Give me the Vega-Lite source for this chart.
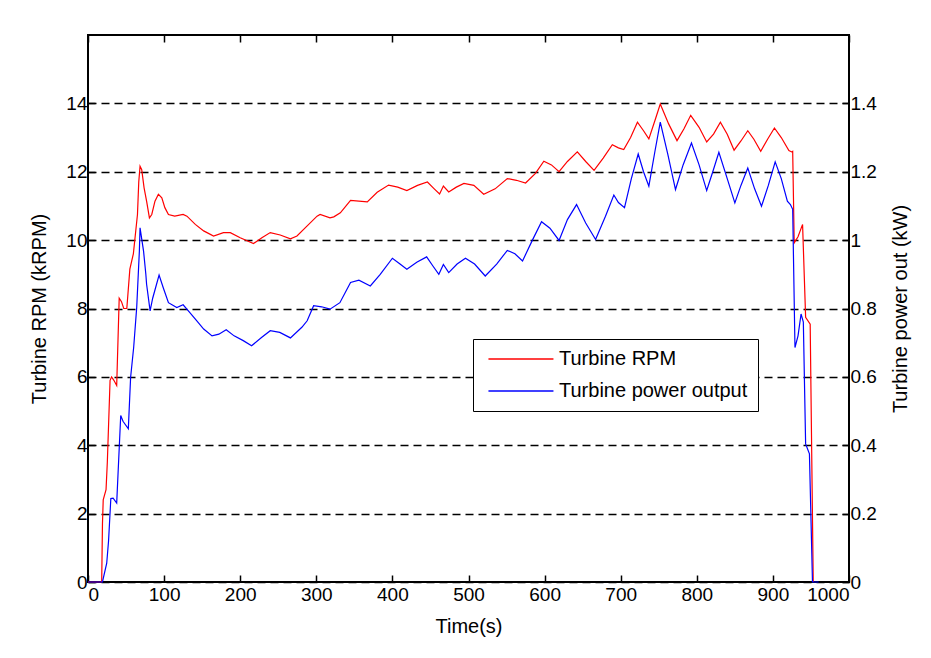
{
  "$schema": "https://vega.github.io/schema/vega-lite/v6.json",
  "width": 761,
  "height": 547,
  "autosize": {"type": "none"},
  "padding": {"left": 88, "top": 35, "right": 82, "bottom": 76},
  "background": "white",
  "config": {
    "font": "Liberation Sans",
    "view": {"stroke": "black", "strokeWidth": 2},
    "axis": {
      "domain": false,
      "grid": false,
      "labelFont": "Liberation Sans",
      "labelFontSize": 19,
      "labelColor": "black",
      "titleFont": "Liberation Sans",
      "titleFontSize": 20,
      "titleFontWeight": "normal",
      "titleColor": "black",
      "tickColor": "black",
      "tickSize": -7,
      "tickWidth": 1.5
    },
    "legend": {
      "labelFont": "Liberation Sans",
      "labelFontSize": 20,
      "labelColor": "black"
    }
  },
  "datasets": {
    "rpm": [
      {"t":0,"v":0},{"t":18,"v":0},{"t":19,"v":1.7},{"t":20,"v":2.4},{"t":23.7,"v":2.7},{"t":25.4,"v":3.5},{"t":29,"v":5.9},{"t":31,"v":6.0},{"t":34,"v":5.9},{"t":37.7,"v":5.75},{"t":41,"v":8.3},{"t":44,"v":8.2},{"t":47,"v":8.0},{"t":51,"v":8.0},{"t":55,"v":9.15},{"t":59.6,"v":9.6},{"t":65,"v":10.75},{"t":66.7,"v":11.7},{"t":68.4,"v":12.16},{"t":70.6,"v":12.06},{"t":73.7,"v":11.53},{"t":77,"v":11.14},{"t":80.7,"v":10.65},{"t":83.8,"v":10.75},{"t":88,"v":11.14},{"t":92.5,"v":11.34},{"t":97,"v":11.24},{"t":101,"v":10.95},{"t":105.7,"v":10.75},{"t":114,"v":10.7},{"t":125,"v":10.75},{"t":130,"v":10.7},{"t":141,"v":10.46},{"t":152,"v":10.27},{"t":165,"v":10.12},{"t":178,"v":10.22},{"t":187,"v":10.22},{"t":200,"v":10.07},{"t":217.5,"v":9.9},{"t":228.5,"v":10.07},{"t":239.5,"v":10.22},{"t":252.6,"v":10.15},{"t":266,"v":10.04},{"t":274.6,"v":10.12},{"t":287.7,"v":10.41},{"t":301,"v":10.7},{"t":305,"v":10.75},{"t":318,"v":10.65},{"t":323,"v":10.68},{"t":331.6,"v":10.8},{"t":345,"v":11.16},{"t":367,"v":11.12},{"t":380,"v":11.4},{"t":395,"v":11.61},{"t":407,"v":11.55},{"t":419,"v":11.45},{"t":433,"v":11.6},{"t":446,"v":11.7},{"t":455,"v":11.5},{"t":462,"v":11.35},{"t":467,"v":11.58},{"t":474,"v":11.41},{"t":484,"v":11.55},{"t":494,"v":11.66},{"t":507,"v":11.6},{"t":520,"v":11.34},{"t":535,"v":11.5},{"t":551,"v":11.8},{"t":563,"v":11.75},{"t":575,"v":11.67},{"t":588,"v":11.95},{"t":599,"v":12.31},{"t":609,"v":12.2},{"t":619,"v":12.0},{"t":630,"v":12.3},{"t":643,"v":12.58},{"t":654,"v":12.3},{"t":665,"v":12.04},{"t":677,"v":12.4},{"t":689,"v":12.79},{"t":697,"v":12.7},{"t":704,"v":12.65},{"t":713,"v":13.0},{"t":722,"v":13.45},{"t":730,"v":13.2},{"t":737,"v":12.96},{"t":745,"v":13.5},{"t":752,"v":13.98},{"t":763,"v":13.4},{"t":774,"v":12.91},{"t":783,"v":13.25},{"t":792,"v":13.65},{"t":803,"v":13.3},{"t":813,"v":12.87},{"t":822,"v":13.1},{"t":831,"v":13.45},{"t":840,"v":13.1},{"t":849,"v":12.63},{"t":858,"v":12.9},{"t":867,"v":13.2},{"t":875,"v":12.95},{"t":884,"v":12.6},{"t":893,"v":12.95},{"t":902,"v":13.28},{"t":911,"v":13.0},{"t":921,"v":12.62},{"t":924.6,"v":12.58},{"t":926,"v":12.6},{"t":928,"v":9.92},{"t":933,"v":10.1},{"t":939,"v":10.46},{"t":943,"v":7.74},{"t":949,"v":7.54},{"t":953,"v":0}
    ],
    "pow": [
      {"t":0,"v":0},{"t":19,"v":0},{"t":24.6,"v":0.055},{"t":27,"v":0.12},{"t":30,"v":0.244},{"t":33,"v":0.245},{"t":37.7,"v":0.231},{"t":43,"v":0.487},{"t":46,"v":0.47},{"t":53,"v":0.448},{"t":56,"v":0.599},{"t":60,"v":0.686},{"t":64,"v":0.803},{"t":67.5,"v":0.968},{"t":68.4,"v":1.036},{"t":73,"v":0.968},{"t":76,"v":0.9},{"t":77,"v":0.871},{"t":81.6,"v":0.793},{"t":85,"v":0.83},{"t":93.4,"v":0.898},{"t":99,"v":0.86},{"t":105.7,"v":0.817},{"t":116.7,"v":0.803},{"t":125,"v":0.811},{"t":133,"v":0.79},{"t":143,"v":0.764},{"t":152,"v":0.74},{"t":163,"v":0.72},{"t":172,"v":0.725},{"t":181.6,"v":0.738},{"t":192,"v":0.72},{"t":204,"v":0.706},{"t":215,"v":0.691},{"t":228,"v":0.715},{"t":239.5,"v":0.735},{"t":252,"v":0.73},{"t":266,"v":0.714},{"t":281,"v":0.745},{"t":288,"v":0.764},{"t":296.5,"v":0.808},{"t":307,"v":0.805},{"t":318,"v":0.798},{"t":331,"v":0.817},{"t":345,"v":0.876},{"t":356,"v":0.883},{"t":371,"v":0.866},{"t":384,"v":0.9},{"t":400,"v":0.947},{"t":410,"v":0.93},{"t":419,"v":0.915},{"t":432,"v":0.935},{"t":445,"v":0.951},{"t":453,"v":0.925},{"t":461,"v":0.9},{"t":467,"v":0.929},{"t":474,"v":0.905},{"t":485,"v":0.93},{"t":496,"v":0.947},{"t":508,"v":0.93},{"t":522,"v":0.895},{"t":537,"v":0.93},{"t":551,"v":0.97},{"t":561,"v":0.96},{"t":571,"v":0.939},{"t":584,"v":1.0},{"t":596,"v":1.054},{"t":607,"v":1.035},{"t":619,"v":0.999},{"t":630,"v":1.06},{"t":642,"v":1.104},{"t":654,"v":1.05},{"t":667,"v":1.002},{"t":680,"v":1.07},{"t":691,"v":1.132},{"t":697,"v":1.11},{"t":705,"v":1.095},{"t":714,"v":1.18},{"t":723,"v":1.252},{"t":730,"v":1.2},{"t":737,"v":1.158},{"t":745,"v":1.26},{"t":752,"v":1.345},{"t":762,"v":1.25},{"t":772,"v":1.148},{"t":782,"v":1.22},{"t":793,"v":1.284},{"t":803,"v":1.22},{"t":813,"v":1.145},{"t":821,"v":1.2},{"t":829,"v":1.257},{"t":840,"v":1.18},{"t":850,"v":1.109},{"t":858,"v":1.16},{"t":867,"v":1.211},{"t":876,"v":1.15},{"t":885,"v":1.099},{"t":894,"v":1.16},{"t":903,"v":1.229},{"t":911,"v":1.18},{"t":919,"v":1.114},{"t":923,"v":1.104},{"t":926,"v":1.09},{"t":929,"v":0.686},{"t":933,"v":0.72},{"t":937,"v":0.784},{"t":940,"v":0.76},{"t":943,"v":0.404},{"t":948,"v":0.375},{"t":952,"v":0},{"t":960,"v":0}
    ]
  },
  "layer": [
    {
      "data": {"name": "rpm"},
      "mark": {"type": "line", "strokeWidth": 1.2, "interpolate": "linear"},
      "encoding": {
        "x": {
          "field": "t", "type": "quantitative",
          "scale": {"domain": [0, 1000], "nice": false},
          "axis": {"orient": "bottom", "values": [0,100,200,300,400,500,600,700,800,900,1000], "format": "d", "title": "Time(s)", "labelPadding": 10, "titlePadding": 12}
        },
        "y": {
          "field": "v", "type": "quantitative",
          "scale": {"domain": [0, 16], "nice": false},
          "axis": {"orient": "left", "values": [0,2,4,6,8,10,12,14], "title": "Turbine RPM (kRPM)", "grid": true, "gridColor": "black", "gridDash": [8,5], "gridWidth": 1.5, "labelPadding": 8, "titlePadding": 16}
        },
        "color": {
          "datum": "Turbine RPM",
          "scale": {"domain": ["Turbine RPM", "Turbine power output"], "range": ["#ff0000", "#0000ff"]},
          "legend": {
            "title": null,
            "orient": "none",
            "legendX": 385,
            "legendY": 304,
            "symbolType": "M-0.7,0H9.3",
            "symbolSize": 169,
            "symbolStrokeWidth": 1.5,
            "strokeColor": "black",
            "fillColor": "white",
            "padding": 10,
            "rowPadding": 12,
            "labelOffset": 56,
            "labelLimit": 400
          }
        }
      }
    },
    {
      "data": {"name": "pow"},
      "mark": {"type": "line", "strokeWidth": 1.2, "interpolate": "linear"},
      "encoding": {
        "x": {
          "field": "t", "type": "quantitative",
          "scale": {"domain": [0, 1000], "nice": false},
          "axis": {"orient": "top", "values": [0,100,200,300,400,500,600,700,800,900,1000], "labels": false, "title": null}
        },
        "y": {
          "field": "v", "type": "quantitative",
          "scale": {"domain": [0, 1.6], "nice": false},
          "axis": {"orient": "right", "values": [0,0.2,0.4,0.6,0.8,1,1.2,1.4], "format": ".1~f", "title": "Turbine power out (kW)", "titleAngle": 270, "titleBaseline": "top", "labelPadding": 8, "titlePadding": 14}
        },
        "color": {"datum": "Turbine power output"}
      }
    }
  ],
  "resolve": {"scale": {"y": "independent"}, "axis": {"x": "independent"}}
}
